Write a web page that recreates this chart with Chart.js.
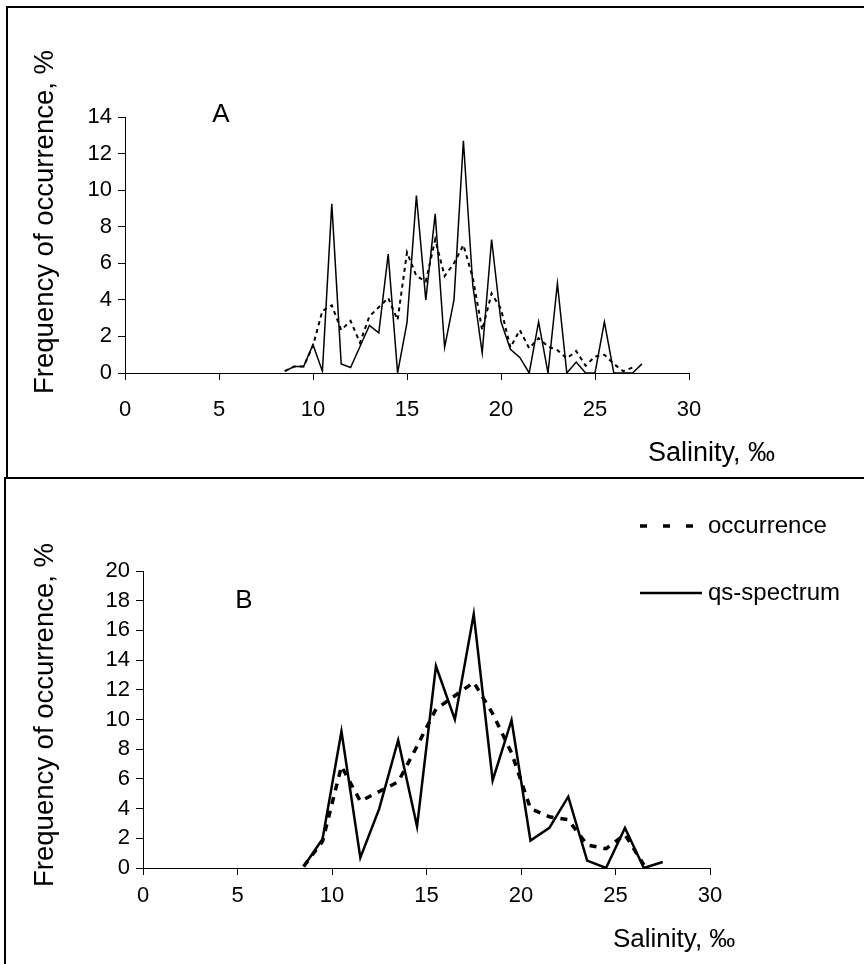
<!DOCTYPE html>
<html>
<head>
<meta charset="utf-8">
<script src="https://cdn.jsdelivr.net/npm/chart.js@4/dist/chart.umd.min.js"></script>
<style>
  html, body { margin:0; padding:0; background:#fff; width:864px; height:964px; overflow:hidden; }
  #wrapA { position:absolute; left:0; top:0; width:864px; height:478px; }
  #wrapB { position:absolute; left:0; top:478px; width:864px; height:486px; }
  #boxA { position:absolute; left:6px; top:6px; width:900px; height:473px; border:2px solid #000; border-right:none; box-sizing:border-box; }
  #boxB { position:absolute; left:4px; top:477px; width:900px; height:600px; border-left:2px solid #000; border-top:2px solid #000; }
</style>
</head>
<body>
<div id="wrapA"><canvas id="chartA" width="864" height="478"></canvas></div>
<div id="wrapB"><canvas id="chartB" width="864" height="486"></canvas></div>
<div id="boxA"></div>
<div id="boxB"></div>
<script>
// ---- data ----
const salinityA = [8.5, 9, 9.5, 10, 10.5, 11, 11.5, 12, 12.5, 13, 13.5, 14, 14.5, 15, 15.5, 16, 16.5, 17, 17.5, 18, 18.5, 19, 19.5, 20, 20.5, 21, 21.5, 22, 22.5, 23, 23.5, 24, 24.5, 25, 25.5, 26, 26.5, 27, 27.5];
const qsSpectrumA = [0.1, 0.35, 0.35, 1.55, 0.1, 9.25, 0.5, 0.3, 1.45, 2.6, 2.2, 6.5, 0, 2.75, 9.7, 4.0, 8.7, 1.4, 4.0, 12.7, 4.8, 1.1, 7.3, 2.8, 1.3, 0.85, 0, 2.8, 0, 4.9, 0, 0.6, 0, 0, 2.8, 0, 0, 0, 0.5];
const occurrenceA = [0.1, 0.35, 0.35, 1.5, 3.4, 3.7, 2.35, 2.85, 1.65, 3.1, 3.6, 4.1, 2.9, 6.6, 5.3, 5.0, 7.3, 5.3, 6.0, 7.0, 5.2, 2.35, 4.35, 3.5, 1.4, 2.35, 1.35, 1.9, 1.45, 1.25, 0.8, 1.2, 0.4, 0.9, 1.0, 0.5, 0.1, 0.3, null];

const salinityB = [8.5, 9.5, 10.5, 11.5, 12.5, 13.5, 14.5, 15.5, 16.5, 17.5, 18.5, 19.5, 20.5, 21.5, 22.5, 23.5, 24.5, 25.5, 26.5, 27.5];
const qsSpectrumB = [0.1, 1.95, 9.2, 0.7, 4.0, 8.6, 2.8, 13.6, 10.0, 17.1, 5.9, 9.95, 1.85, 2.7, 4.8, 0.5, 0, 2.7, 0, 0.4];
const occurrenceB = [0.1, 1.8, 6.85, 4.5, 5.15, 5.8, 8.2, 10.7, 11.6, 12.5, 10.4, 7.75, 4.0, 3.45, 3.25, 1.55, 1.3, 2.25, 0.2, null];

const xTickLabels = [0, 5, 10, 15, 20, 25, 30];
const yTicksA = [0, 2, 4, 6, 8, 10, 12, 14];
const yTicksB = [0, 2, 4, 6, 8, 10, 12, 14, 16, 18, 20];

const seriesNames = ['occurrence', 'qs-spectrum'];
const yTitle = 'Frequency of occurrence, %';
const xTitle = 'Salinity, \u2030';
const panelLetters = ['A', 'B'];

// ---- helpers ----
const FONT = '"Liberation Sans", Arial, sans-serif';
const pts = (xs, ys) => xs.map((x, i) => ({ x: x, y: ys[i] }));

function textPlugin(cfg) {
  return {
    id: 'texts' + cfg.letter,
    afterDraw(chart) {
      const ctx = chart.ctx;
      ctx.save();
      ctx.fillStyle = '#000';
      // y title
      ctx.save();
      ctx.translate(cfg.yTitleX, cfg.yTitleY);
      ctx.rotate(-Math.PI / 2);
      ctx.font = cfg.yTitleSize + 'px ' + FONT;
      ctx.textAlign = 'center';
      ctx.textBaseline = 'middle';
      ctx.fillText(yTitle, 0, 0);
      ctx.restore();
      // x title
      ctx.font = cfg.xTitleSize + 'px ' + FONT;
      ctx.textAlign = 'left';
      ctx.textBaseline = 'middle';
      ctx.fillText(xTitle, cfg.xTitleX, cfg.xTitleY);
      // letter
      ctx.font = cfg.letterSize + 'px ' + FONT;
      ctx.textAlign = 'center';
      ctx.fillText(cfg.letter, cfg.letterX, cfg.letterY);
      // legend
      if (cfg.legend) {
        const L = cfg.legend;
        ctx.strokeStyle = '#000';
        ctx.lineWidth = 3.5;
        ctx.setLineDash([7, 16]);
        ctx.beginPath();
        ctx.moveTo(L.x0, L.y1);
        ctx.lineTo(L.x1, L.y1);
        ctx.stroke();
        ctx.setLineDash([]);
        ctx.lineWidth = 2.5;
        ctx.beginPath();
        ctx.moveTo(L.x0, L.y2);
        ctx.lineTo(L.x1 + 4, L.y2);
        ctx.stroke();
        ctx.font = L.size + 'px ' + FONT;
        ctx.textAlign = 'left';
        ctx.textBaseline = 'middle';
        ctx.fillText(seriesNames[0], L.tx, L.y1);
        ctx.fillText(seriesNames[1], L.tx, L.y2);
      }
      ctx.restore();
    }
  };
}

function makeChart(id, o) {
  return new Chart(document.getElementById(id), {
    type: 'line',
    data: {
      datasets: [
        { label: seriesNames[0], data: pts(o.xs, o.occ), borderColor: '#000', borderWidth: o.dashW, borderDash: o.dash,
          pointRadius: 0, fill: false, tension: 0, spanGaps: false },
        { label: seriesNames[1], data: pts(o.xs, o.qs), borderColor: '#000', borderWidth: o.solidW,
          pointRadius: 0, fill: false, tension: 0, spanGaps: false }
      ]
    },
    options: {
      responsive: false, animation: false, events: [],
      layout: { padding: { left: 0, top: o.top, right: o.right, bottom: 0 } },
      plugins: { legend: { display: false }, tooltip: { enabled: false } },
      scales: {
        x: {
          type: 'linear', min: 0, max: 30,
          afterBuildTicks(s) { s.ticks = xTickLabels.map(v => ({ value: v })); },
          ticks: { color: '#000', font: { family: FONT, size: o.tickSize }, padding: o.xPad, maxRotation: 0, autoSkip: false },
          grid: { drawOnChartArea: false, drawTicks: true, tickLength: 7, color: '#000', lineWidth: 1 },
          border: { display: true, color: '#000', width: 1 },
          afterFit(s) { s.height = o.xH; }
        },
        y: {
          type: 'linear', min: 0, max: o.ymax,
          afterBuildTicks(s) { s.ticks = o.yTicks.map(v => ({ value: v })); },
          ticks: { color: '#000', font: { family: FONT, size: o.tickSize }, padding: 6, autoSkip: false },
          grid: { drawOnChartArea: false, drawTicks: true, tickLength: 7, color: '#000', lineWidth: 1 },
          border: { display: true, color: '#000', width: 1 },
          afterFit(s) { s.width = o.yW; }
        }
      }
    },
    plugins: [textPlugin(o.text)]
  });
}

makeChart('chartA', {
  xs: salinityA, qs: qsSpectrumA, occ: occurrenceA,
  dashW: 2, dash: [4, 4], solidW: 1.5,
  top: 117, right: 175, xH: 105, yW: 125, xPad: 17, ymax: 14, yTicks: yTicksA, tickSize: 22,
  text: { letter: panelLetters[0], yTitleX: 45, yTitleY: 222, yTitleSize: 27.5,
          xTitleX: 648, xTitleY: 454, xTitleSize: 27, letterX: 221, letterY: 115, letterSize: 26 }
});

makeChart('chartB', {
  xs: salinityB, qs: qsSpectrumB, occ: occurrenceB,
  dashW: 3.5, dash: [7, 7], solidW: 2.5,
  top: 93, right: 154, xH: 96, yW: 143, xPad: 8, ymax: 20, yTicks: yTicksB, tickSize: 22,
  text: { letter: panelLetters[1], yTitleX: 45, yTitleY: 237, yTitleSize: 27.5,
          xTitleX: 613, xTitleY: 462, xTitleSize: 26, letterX: 244, letterY: 123, letterSize: 26,
          legend: { x0: 640, x1: 698, y1: 48, y2: 115, tx: 708, size: 24 } }
});
</script>
</body>
</html>
